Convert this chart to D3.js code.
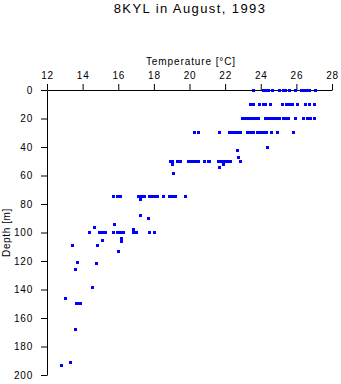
<!DOCTYPE html>
<html>
<head>
<meta charset="utf-8">
<script src="https://cdn.jsdelivr.net/npm/d3@7"></script>
<style>
  html, body { margin: 0; padding: 0; background: #fff; }
  svg { display: block; }
  text { font-family: "Liberation Sans", Arial, sans-serif; fill: #000; }
</style>
</head>
<body>
<svg id="chart" width="341" height="384"></svg>
<script>
// ---- data ----
const title = "8KYL in August, 1993";
const xLabel = "Temperature [°C]";
const yLabel = "Depth [m]";
const xTicks = [12, 14, 16, 18, 20, 22, 24, 26, 28];
const yTicks = [0, 20, 40, 60, 80, 100, 120, 140, 160, 180, 200];

// temperatures measured along nearly constant depth levels
const temps0 = [23.58, 24.17, 24.28, 24.46, 24.68, 25.07, 25.29, 25.41, 25.61, 25.96, 26.29, 26.40, 26.51, 26.62, 26.76, 27.08];
const temps10 = [23.40, 23.57, 23.91, 24.15, 24.27, 24.52, 25.22, 25.47, 25.64, 25.81, 26.08, 26.54, 26.76, 27.03];
const temps20 = [22.95, 23.09, 23.26, 23.45, 23.59, 23.76, 23.87, 24.24, 24.41, 24.58, 24.74, 24.91, 25.08, 25.25, 25.42, 25.56, 25.93, 26.42, 26.65, 26.81, 27.02];
const temps30 = [20.30, 20.53, 21.66, 22.22, 22.36, 22.53, 22.69, 22.89, 23.26, 23.42, 23.57, 23.82, 23.99, 24.13, 24.32, 24.62, 24.93, 25.85];
const temps50 = [18.91, 19.07, 19.30, 19.51, 19.92, 20.06, 20.22, 20.39, 20.53, 20.87, 21.04, 21.15, 21.63, 21.80, 21.97, 22.13, 22.30, 22.88];
const temps75 = [15.71, 15.93, 16.10, 17.11, 17.28, 17.45, 17.73, 17.89, 18.06, 18.23, 18.54, 18.85, 19.02, 19.24, 19.80];
const temps100 = [14.39, 14.92, 15.12, 15.31, 15.76, 15.96, 16.15, 16.27, 16.83, 17.05, 17.73, 18.01];
const temps150 = [13.63, 13.80, 13.88];
const levelDepths = [0, 10, 20, 30, 50, 75, 100, 150];

// individual scattered observations
const scatterTemps  = [24.38, 22.69, 22.75, 19.03, 19.08, 21.68, 21.91, 17.25, 17.27, 17.70, 15.79, 14.69, 16.86,
                       13.45, 14.85, 15.12, 16.20, 16.18, 16.03, 13.73, 13.62, 14.76, 14.57, 13.04, 13.58, 13.32, 12.83];
const scatterDepths = [40.2, 42.3, 47.2, 52.1, 58.5, 54.2, 52.1, 76.8, 88.4, 90.0, 94.3, 96.4, 98.2,
                       109.3, 109.3, 105.5, 104.2, 106.3, 113.2, 121.4, 126.1, 122.0, 138.5, 146.2, 168.0, 191.4, 193.2];

// ---- build point list ----
const levelTemps = [temps0, temps10, temps20, temps30, temps50, temps75, temps100, temps150];
const points = [];
levelTemps.forEach((arr, i) => arr.forEach(t => points.push({ t: t, d: levelDepths[i] })));
scatterTemps.forEach((t, i) => points.push({ t: t, d: scatterDepths[i] }));

// ---- draw ----
const svg = d3.select("#chart");
const x = d3.scaleLinear().domain([12, 28]).range([47, 332]);
const y = d3.scaleLinear().domain([0, 200]).range([90, 375]);

svg.append("text")
  .attr("x", 190).attr("y", 12.5)
  .attr("text-anchor", "middle")
  .style("font-size", "13px")
  .style("letter-spacing", "1.4px")
  .text(title);

const xAxis = svg.append("g")
  .attr("transform", `translate(0,${y(0)})`)
  .call(d3.axisTop(x).tickValues(xTicks).tickSize(6).tickSizeOuter(0).tickPadding(5).tickFormat(d3.format("d")));

const yAxis = svg.append("g")
  .attr("transform", `translate(${x(12)},0)`)
  .call(d3.axisLeft(y).tickValues(yTicks).tickSize(6).tickSizeOuter(0).tickPadding(8).tickFormat(d3.format("d")));

[xAxis, yAxis].forEach(g => {
  g.selectAll("text")
    .style("font-family", "'Liberation Sans', Arial, sans-serif")
    .style("font-size", "10px")
    .style("letter-spacing", "0.8px")
    .attr("fill", "#000");
  g.selectAll("line, path").attr("stroke", "#000").attr("stroke-width", 1);
});

svg.append("text")
  .attr("x", 191).attr("y", 64.5)
  .attr("text-anchor", "middle")
  .style("font-size", "10px")
  .style("letter-spacing", "0.9px")
  .text(xLabel);

svg.append("text")
  .attr("transform", `translate(10,232.5) rotate(-90)`)
  .attr("text-anchor", "middle")
  .style("font-size", "10px")
  .style("letter-spacing", "0.6px")
  .text(yLabel);

svg.append("g")
  .selectAll("rect")
  .data(points)
  .join("rect")
  .attr("x", p => Math.round(x(p.t) - 1.5))
  .attr("y", p => Math.round(y(p.d) - 1.5))
  .attr("width", 3)
  .attr("height", 3)
  .attr("fill", "#0000ff")
  .attr("shape-rendering", "crispEdges");
</script>
</body>
</html>
